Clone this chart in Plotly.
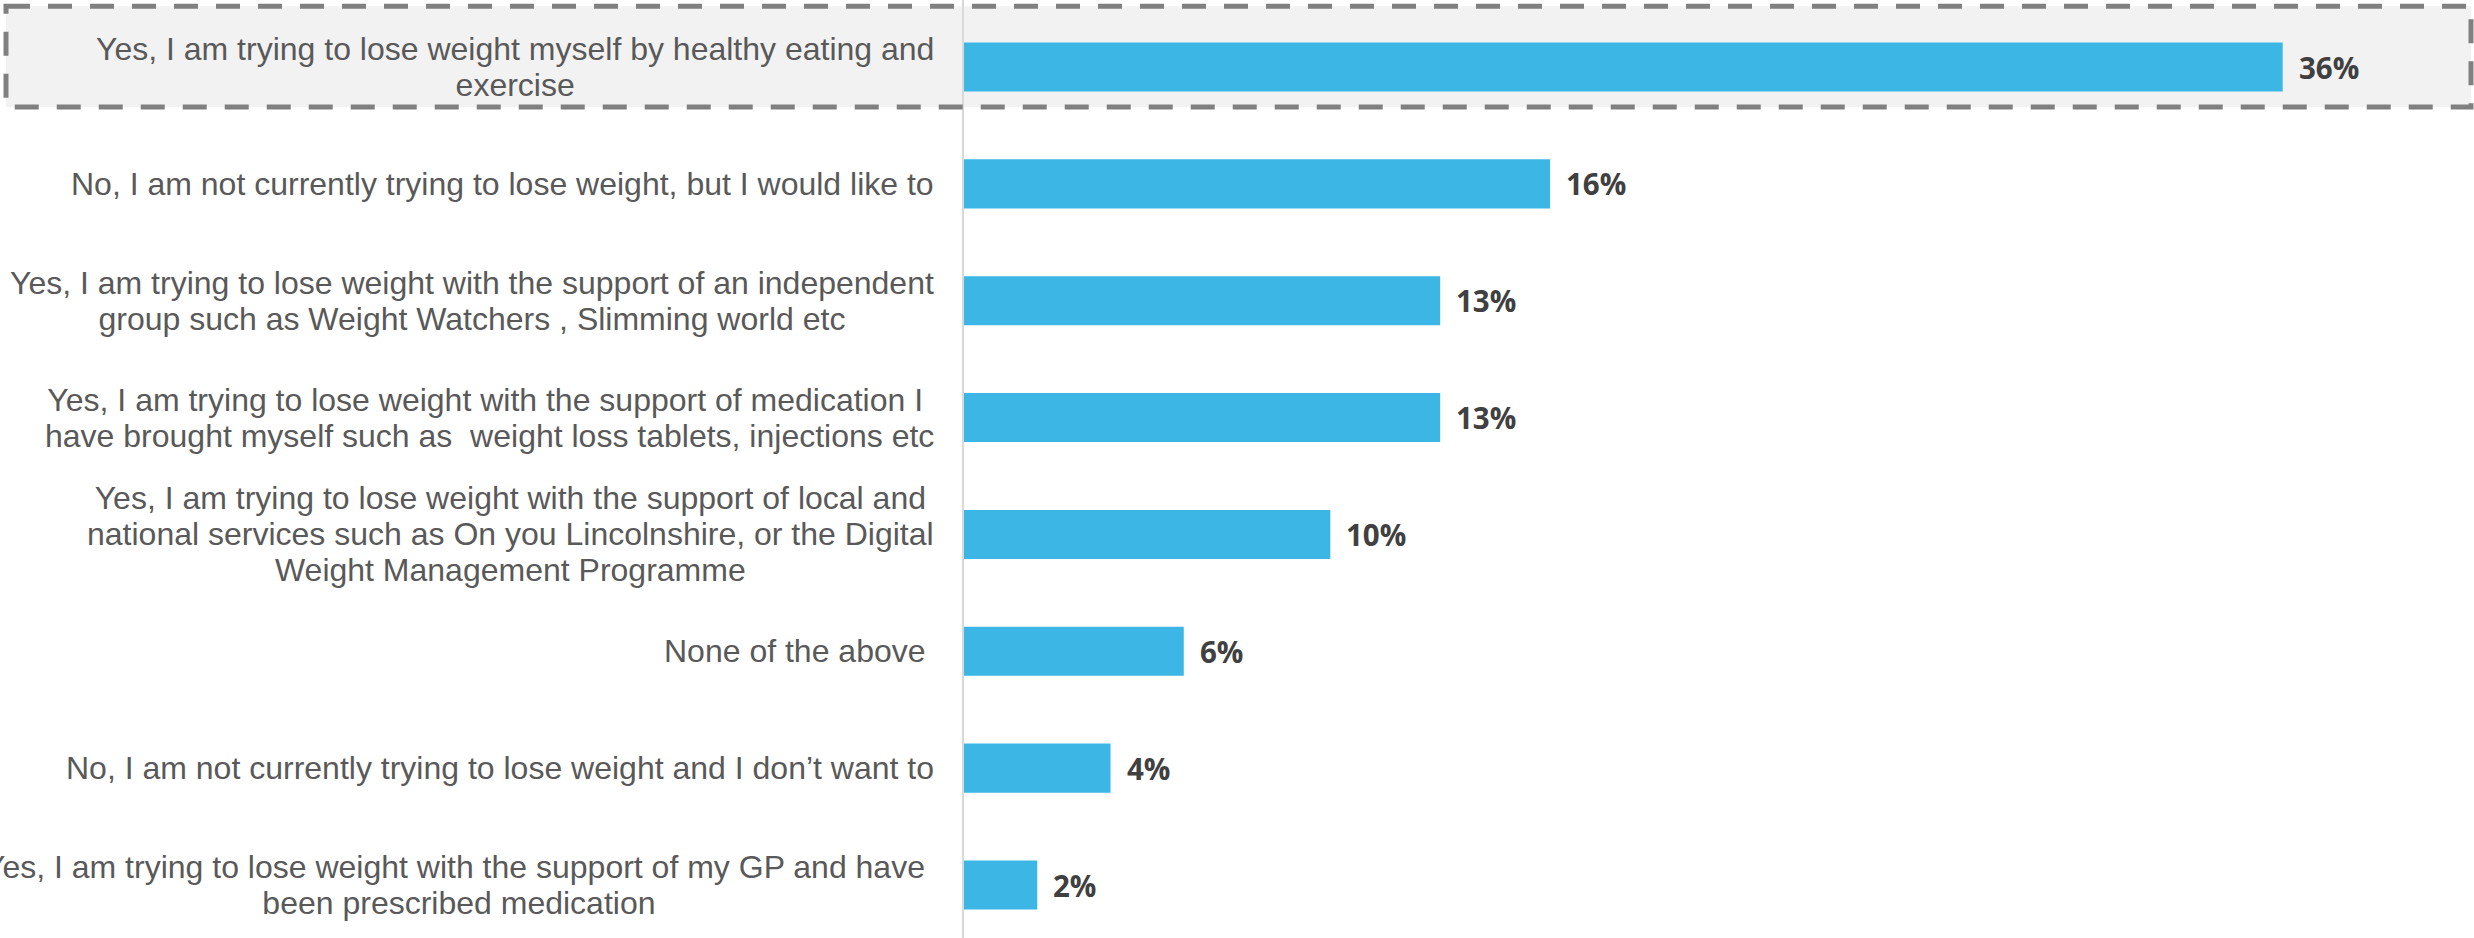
import plotly.graph_objects as go

# Survey responses (share of respondents, %)
categories = [
    "Yes, I am trying to lose weight myself by healthy eating and<br>exercise",
    "No, I am not currently trying to lose weight, but I would like to",
    "Yes, I am trying to lose weight with the support of an independent<br>group such as Weight Watchers , Slimming world etc",
    "Yes, I am trying to lose weight with the support of medication I&nbsp;<br>have brought myself such as &nbsp;weight loss tablets, injections etc",
    "Yes, I am trying to lose weight with the support of local and<br>national services such as On you Lincolnshire, or the Digital<br>Weight Management Programme",
    "None of the above&nbsp;",
    "No, I am not currently trying to lose weight and I don\u2019t want to",
    "Yes, I am trying to lose weight with the support of my GP and have&nbsp;<br>been prescribed medication",
]
values = [36, 16, 13, 13, 10, 6, 4, 2]
value_labels = ["36%", "16%", "13%", "13%", "10%", "6%", "4%", "2%"]

W, H = 2474, 938
LEFT = 964
positions = list(range(len(categories)))

BAR_COLOR = "#3CB7E5"
LABEL_COLOR = "#595959"
VALUE_COLOR = "#404040"


def sized(text, px):
    # glyph size set per line so line spacing follows the annotation font size
    return "<br>".join(f'<span style="font-size:{px}px">{ln}</span>' for ln in text.split("<br>"))


fig = go.Figure(
    go.Bar(
        x=values,
        y=positions,
        orientation="h",
        width=0.42,
        marker=dict(color=BAR_COLOR, line=dict(width=0)),
        hoverinfo="skip",
    )
)

# highlight box around the leading answer
box = dict(
    type="rect",
    xref="paper", yref="y",
    x0=(6 - LEFT) / (W - LEFT), x1=(2471 - LEFT) / (W - LEFT),
    y0=-0.52, y1=0.342,
)
fig.add_shape(**box, fillcolor="#F2F2F2", line=dict(width=0), layer="below")
fig.add_shape(**box, fillcolor="rgba(0,0,0,0)",
              line=dict(color="#808080", width=5, dash="24px,18px"), layer="above")

annotations = []
for pos, cat in zip(positions, categories):
    annotations.append(dict(
        x=0, xref="paper", y=pos, yref="y",
        text=sized(cat, 32), showarrow=False,
        xanchor="right", yanchor="middle", align="center",
        xshift=-28,
        font=dict(family="Liberation Sans, Arial, sans-serif", size=27.5, color=LABEL_COLOR),
    ))
for pos, val, lab in zip(positions, values, value_labels):
    annotations.append(dict(
        x=val, xref="x", y=pos, yref="y",
        text=lab, showarrow=False,
        xanchor="left", yanchor="middle",
        xshift=14,
        font=dict(family="Open Sans, sans-serif", size=29.5, color=VALUE_COLOR, weight="bold"),
    ))

span = 116.86
fig.update_layout(
    width=W, height=H,
    margin=dict(l=LEFT, r=0, t=0, b=0),
    paper_bgcolor="white",
    plot_bgcolor="rgba(0,0,0,0)",
    showlegend=False,
    annotations=annotations,
    xaxis=dict(
        range=[0, (W - LEFT) / 36.63],
        showgrid=False, zeroline=False, showticklabels=False, ticks="",
        showline=False,
    ),
    yaxis=dict(
        range=[(H - 67) / span, -67 / span],
        showgrid=False, zeroline=False, showticklabels=False, ticks="",
        showline=True, linecolor="#D9D9D9", linewidth=2,
    ),
)

fig.write_html("out.html")
